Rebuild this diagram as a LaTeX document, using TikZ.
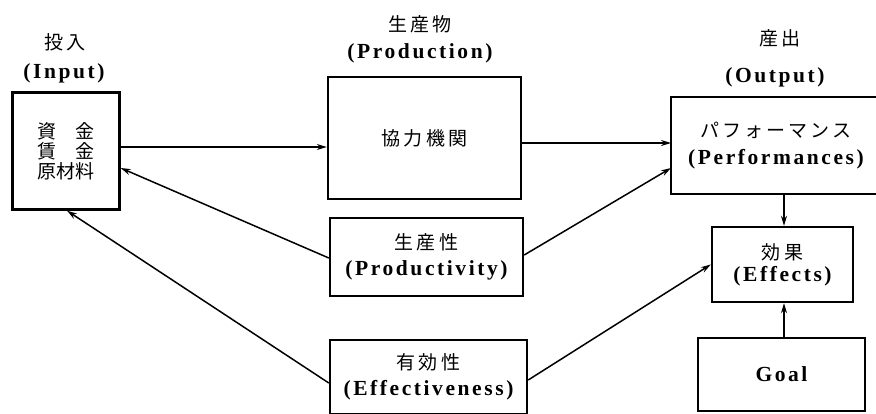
\documentclass[tikz,border=0pt]{standalone}
\usepackage{fontspec}
\setmainfont{Liberation Serif}
\newfontfamily\jpfont{Noto Sans CJK JP}
\newfontfamily\latfont[LetterSpace=12]{Liberation Serif}
\usetikzlibrary{arrows.meta}
\newcommand{\jpsz}{\jpfont\fontsize{19}{21}\selectfont}
\newcommand{\ltsz}{\latfont\bfseries\fontsize{21.5}{23}\selectfont}
\tikzset{
  box/.style={draw, line width=2.4pt, inner sep=0pt, align=center},
  lbl/.style={inner sep=0pt, align=center},
  conn/.style={line width=1.5pt, -{Stealth[length=10pt,width=6pt]}},
  jp/.style={font=\jpsz},
  lt/.style={font=\ltsz}
}
\begin{document}
\begin{tikzpicture}[x=1pt,y=-1pt]
\clip (0,0) rectangle (876,414);
\fill[white] (0,0) rectangle (876,414);
% headers
\node[lbl,jp] (hin) at (65,42) {投\,入};
\node[lbl,lt] (hinl) at (64,73) {(Input)};
\node[lbl,jp] (hpr) at (420,24) {生\,産\,物};
\node[lbl,lt] (hprl) at (420,53) {(Production)};
\node[lbl,jp] (hout) at (780,38) {産\,出};
\node[lbl,lt] (houtl) at (775,77) {(Output)};
% boxes
\node[box, jp, minimum width=107pt, minimum height=117pt] (input) at (66,151)
  {資\hspace{1em}金\\[-1pt]賃\hspace{1em}金\\[-1pt]原材料};
\node[box, jp, minimum width=193pt, minimum height=122pt] (prod) at (424.5,138)
  {協\,力\,機\,関};
\node[box, jp, minimum width=210pt, minimum height=97pt] (out) at (776,145.5)
  {パ\hspace{3pt}フ\hspace{3pt}ォ\hspace{3pt}ー\hspace{3pt}マ\hspace{3pt}ン\hspace{3pt}ス\\[6pt]
   \ltsz (Performances)};
\coordinate (outw) at (671,145.5);
\node[box, jp, minimum width=193pt, minimum height=78pt] (prodv) at (426.5,257)
  {生\,産\,性\\[5pt]\ltsz (Productivity)};
\node[box, jp, minimum width=197pt, minimum height=74pt] (eff) at (428.5,377)
  {有\,効\,性\\[5pt]\ltsz (Effectiveness)};
\node[box, jp, minimum width=141pt, minimum height=75pt] (effects) at (782.5,264.5)
  {\raisebox{-4pt}{効\,果}\\[5pt]\ltsz (Effects)};
\node[box, lt, minimum width=167pt, minimum height=73pt] (goal) at (781.5,374.5)
  {Goal};
% connectors
\draw[conn] ([yshift=4pt]input.east) -- ([yshift=-9pt]prod.west);
\draw[conn] ([yshift=-5pt]prod.east) -- ([yshift=2.5pt]outw);
\draw[conn] ([yshift=-1pt]prodv.west) -- ([yshift=-17pt]input.east);
\draw[conn] ([yshift=2pt]prodv.east) -- ([yshift=-22.5pt]outw);
\draw[conn] ([yshift=-6pt]eff.west) -- ([xshift=1pt]input.south);
\draw[conn] ([yshift=-3pt]eff.east) -- (effects.west);
\draw[conn] ([xshift=8pt]out.south) -- ([xshift=1.5pt]effects.north);
\draw[conn] ([xshift=2.5pt]goal.north) -- ([xshift=1.5pt]effects.south);
\end{tikzpicture}
\end{document}
